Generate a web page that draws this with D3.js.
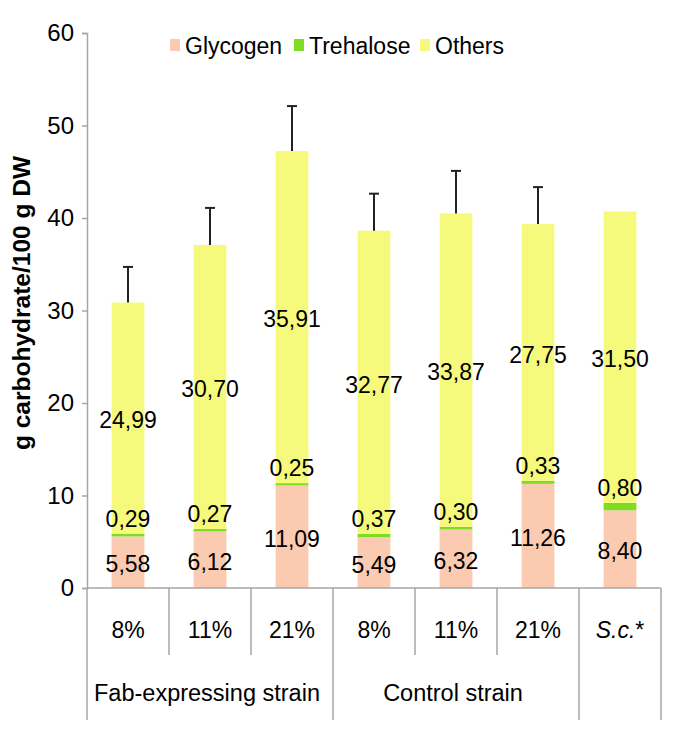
<!DOCTYPE html>
<html>
<head>
<meta charset="utf-8">
<script src="https://cdn.jsdelivr.net/npm/d3@7/dist/d3.min.js"></script>
<style>
  body { margin: 0; background: #fff; }
  svg { display: block; font-family: "Liberation Sans", Arial, sans-serif; }
</style>
</head>
<body>
<svg id="chart" width="685" height="740"></svg>
<script>
const categories = ["8%", "11%", "21%", "8%", "11%", "21%", "S.c.*"];
const glycogen = [5.58, 6.12, 11.09, 5.49, 6.32, 11.26, 8.40];
const trehalose = [0.29, 0.27, 0.25, 0.37, 0.30, 0.33, 0.80];
const others = [24.99, 30.70, 35.91, 32.77, 33.87, 27.75, 31.50];
const errors = [3.85, 4.0, 4.85, 4.0, 4.6, 4.0, null];
const groupNames = ["Fab-expressing strain", "Control strain", ""];
const groupStart = [0, 3, 6];
const groupEnd = [2, 5, 6];
const yTicks = [0, 10, 20, 30, 40, 50, 60];
const seriesNames = ["Glycogen", "Trehalose", "Others"];
const seriesColors = ["#FACBB0", "#80DC22", "#F6FA7C"];

const fmt = v => v.toFixed(2).replace(".", ",");

const svg = d3.select("#chart");
const mLeft = 87, mRight = 661, mTop = 33, mBottom = 588;

const x = d3.scaleBand().domain(d3.range(categories.length)).range([mLeft, mRight])
  .paddingInner(0.6).paddingOuter(0.3);
const y = d3.scaleLinear().domain([0, 60]).range([mBottom, mTop]);

// y axis
const yAxis = d3.axisLeft(y).tickValues(yTicks).tickSize(5).tickPadding(8);
const gy = svg.append("g").attr("transform", `translate(${mLeft},0)`).call(yAxis);
gy.select(".domain").attr("stroke", "#A6A6A6").attr("stroke-width", 1.5);
gy.selectAll(".tick line").attr("stroke", "#A6A6A6").attr("stroke-width", 1.5);
gy.selectAll(".tick text").attr("font-size", 24).attr("fill", "#000")
  .attr("font-family", "Liberation Sans, Arial, sans-serif");

// y title
svg.append("text")
  .attr("transform", `translate(30,303) rotate(-90)`)
  .attr("text-anchor", "middle")
  .attr("font-size", 24.5).attr("font-weight", "bold")
  .text("g carbohydrate/100 g DW");

// stacked data
const stackData = categories.map((c, i) => ({ i, Glycogen: glycogen[i], Trehalose: trehalose[i], Others: others[i] }));
const stack = d3.stack().keys(seriesNames)(stackData);

svg.append("g").selectAll("g").data(stack).join("g")
  .attr("fill", (d, k) => seriesColors[k])
  .selectAll("rect").data(d => d).join("rect")
  .attr("x", d => x(d.data.i))
  .attr("width", x.bandwidth())
  .attr("y", d => y(d[1]))
  .attr("height", d => y(d[0]) - y(d[1]));

// error bars
const eb = svg.append("g").attr("stroke", "#222").attr("stroke-width", 2);
categories.forEach((c, i) => {
  if (errors[i] == null) return;
  const tot = glycogen[i] + trehalose[i] + others[i];
  const cx = x(i) + x.bandwidth() / 2;
  eb.append("line").attr("x1", cx).attr("x2", cx).attr("y1", y(tot)).attr("y2", y(tot + errors[i]));
  eb.append("line").attr("x1", cx - 5).attr("x2", cx + 5).attr("y1", y(tot + errors[i])).attr("y2", y(tot + errors[i]));
});

// value labels
const lab = svg.append("g").attr("font-size", 23).attr("text-anchor", "middle").attr("fill", "#000");
stack.forEach((s, k) => {
  s.forEach(d => {
    const cx = x(d.data.i) + x.bandwidth() / 2;
    let cy;
    if (k === 1) cy = y(d[1]) - 15;
    else cy = (y(d[0]) + y(d[1])) / 2 + 2;
    lab.append("text").attr("x", cx).attr("y", cy).attr("dy", "0.36em")
      .text(fmt(d[1] - d[0]));
  });
});

// bottom axis line & separators
const axisCol = "#A6A6A6";
svg.append("line").attr("x1", mLeft).attr("x2", mRight).attr("y1", mBottom).attr("y2", mBottom)
  .attr("stroke", axisCol).attr("stroke-width", 1.5);
const step = x.step();
const boundaries = d3.range(categories.length + 1).map(k => mLeft + k * step);
const groupBounds = new Set([0, 3, 6, 7]);
boundaries.forEach((bx, k) => {
  svg.append("line").attr("x1", bx).attr("x2", bx).attr("y1", mBottom)
    .attr("y2", groupBounds.has(k) ? 720 : 655)
    .attr("stroke", axisCol).attr("stroke-width", 1.5);
});

// category labels
const cl = svg.append("g").attr("font-size", 23).attr("text-anchor", "middle");
categories.forEach((c, i) => {
  const cx = mLeft + (i + 0.5) * step;
  const t = cl.append("text").attr("x", cx).attr("y", 630).attr("dy", "0.36em");
  if (c === "S.c.*") {
    t.append("tspan").attr("font-style", "italic").text("S.c.");
    t.append("tspan").text("*");
  } else t.text(c);
});

// group labels
groupNames.forEach((g, k) => {
  const cx = mLeft + ((groupStart[k] + groupEnd[k] + 1) / 2) * step - 3;
  svg.append("text").attr("x", cx).attr("y", 693).attr("dy", "0.36em")
    .attr("font-size", 23.5).attr("text-anchor", "middle").text(g);
});

// legend
const legX = [170, 294, 420];
seriesNames.forEach((n, k) => {
  svg.append("rect").attr("x", legX[k]).attr("y", 39).attr("width", 10).attr("height", 12)
    .attr("fill", seriesColors[k]);
  svg.append("text").attr("x", legX[k] + 15).attr("y", 46).attr("dy", "0.36em")
    .attr("font-size", 23).text(n);
});
</script>
</body>
</html>
